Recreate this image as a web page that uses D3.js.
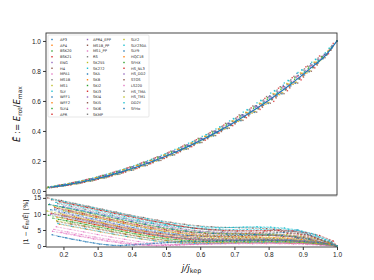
<!DOCTYPE html>
<html>
<head>
<meta charset="utf-8">
<script src="https://cdn.jsdelivr.net/npm/d3@7"></script>
<style>
  body { margin: 0; background: #fff; }
  svg { display: block; font-family: "DejaVu Sans", sans-serif; }
</style>
</head>
<body>
<svg id="chart" width="374" height="280"></svg>
<script>
// shared j/j_kep grid of the sampled models
var jValues = [0.17, 0.21, 0.25, 0.29, 0.33, 0.37, 0.41, 0.45, 0.49, 0.53, 0.57,
  0.61, 0.65, 0.69, 0.73, 0.77, 0.81, 0.85, 0.89, 0.93, 0.97, 1.0];

// fitted E_bar at the same j values
var fitE = [0.027, 0.041, 0.058, 0.078, 0.101, 0.127, 0.156, 0.188, 0.223, 0.261, 0.302,
  0.346, 0.394, 0.445, 0.500, 0.558, 0.620, 0.686, 0.757, 0.832, 0.912, 1.0];

var eosNames = ["AP3", "AP4", "BSK20", "BSK21", "ENG", "H4", "MPA1", "MS1B", "MS1", "SLY",
  "WFF1", "WFF2", "SLY4", "APR", "APR4_EPP", "MS1B_PP", "MS1_PP", "RS", "SK255", "SK272",
  "SKA", "SKB", "SKI2", "SKI3", "SKI4", "SKI5", "SKI6", "SKMP", "SLY2", "SLY230A", "SLY9",
  "HQC18", "SFHX", "HS_NL3", "HS_DD2", "STOS", "LS220", "HS_TMA", "HS_TM1", "DD2Y", "SFHo"];

// offset of each EOS's sampled j values from the shared grid
var jShift = [0.004, -0.012, 0.016, -0.006, 0.010, -0.016, 0.002, 0.013, -0.009, 0.007,
  -0.003, 0.018, -0.014, 0.005, -0.010, 0.012, -0.002, 0.015, -0.018, 0.008,
  -0.007, 0.011, -0.013, 0.001, 0.017, -0.005, 0.009, -0.015, 0.003, 0.014,
  -0.011, 0.006, -0.001, 0.019, -0.008, 0.012, -0.017, 0.0, 0.010, -0.004, 0.015];

// side of the fit the E_bar points lie on (+1 above, -1 below)
var sides = [1, -1, 1, 1, -1, 1, -1, 1, -1, 1, 1, -1, 1, -1, 1, -1, 1, 1, -1, 1,
  1, -1, 1, -1, 1, -1, 1, -1, 1, 1, -1, 1, -1, 1, 1, -1, 1, -1, 1, 1, -1];

// |1 - E_fit/E| in percent, one row per EOS
var deviations = [
  [11.5, 10.6, 9.7, 8.7, 7.8, 6.9, 6.0, 5.2, 4.4, 3.8, 3.3, 3.0, 2.8, 2.7, 2.6, 2.5, 2.3, 2.1, 1.8, 1.3, 0.6, 0.0],
  [null, 9.8, 8.9, 8.0, 7.1, 6.2, 5.3, 4.5, 3.8, 3.2, 2.8, 2.5, 2.4, 2.4, 2.3, 2.2, 2.1, 1.9, 1.6, 1.2, 0.5, 0.0],
  [8.3, 7.5, 6.7, 5.9, 5.1, 4.3, 3.5, 2.8, 2.2, 1.8, 1.5, 1.4, 1.4, 1.5, 1.5, 1.5, 1.4, 1.3, 1.1, 0.8, 0.4, 0.0],
  [10.2, 9.4, 8.6, 7.7, 6.8, 6.0, 5.2, 4.5, 3.9, 3.5, 3.2, 3.1, 3.0, 3.0, 3.0, 3.1, 3.4, 2.9, 2.6, 2.0, 1.0, 0.0],
  [null, 7.2, 6.3, 5.5, 4.6, 3.8, 3.0, 2.3, 1.8, 1.4, 1.2, 1.1, 1.1, 1.2, 1.2, 1.2, 1.2, 1.1, 0.9, 0.7, 0.3, 0.0],
  [15.0, 14.2, 13.3, 12.4, 11.5, 10.6, 9.7, 8.9, 8.1, 7.4, 6.8, 6.3, 6.0, 5.8, 5.7, 5.6, 5.4, 5.1, 4.6, 3.6, 1.8, 0.0],
  [5.2, 4.4, 3.6, 2.8, 2.1, 1.4, 0.8, 0.4, 0.2, 0.3, 0.5, 0.7, 0.8, 0.9, 1.0, 1.0, 1.0, 0.9, 0.8, 0.6, 0.3, 0.0],
  [13.2, 12.3, 11.4, 10.5, 9.6, 8.7, 7.8, 7.0, 6.2, 5.5, 4.9, 4.5, 4.2, 4.0, 3.9, 3.8, 3.6, 3.4, 3.0, 2.3, 1.1, 0.0],
  [null, 11.0, 10.1, 9.2, 8.3, 7.4, 6.5, 5.7, 4.9, 4.3, 3.8, 3.4, 3.2, 3.1, 3.0, 2.9, 2.8, 2.6, 2.2, 1.7, 0.8, 0.0],
  [12.6, 11.8, 11.0, 10.2, 9.4, 8.6, 7.8, 7.1, 6.5, 6.0, 5.7, 5.6, 5.6, 5.8, 5.9, 5.8, 5.6, 5.2, 4.6, 3.6, 1.9, 0.0],
  [3.5, 2.6, 1.8, 1.0, 0.4, 0.1, 0.3, 0.6, 0.9, 1.1, 1.3, 1.4, 1.5, 1.6, 1.6, 1.6, 1.7, 1.8, 2.4, 1.6, 0.8, 0.0],
  [6.8, 6.0, 5.2, 4.4, 3.6, 2.9, 2.2, 1.6, 1.2, 0.9, 0.8, 0.8, 0.9, 1.0, 1.0, 1.0, 1.0, 0.9, 0.8, 0.6, 0.3, 0.0],
  [9.6, 8.8, 8.0, 7.1, 6.3, 5.5, 4.7, 4.0, 3.3, 2.8, 2.4, 2.2, 2.1, 2.1, 2.1, 2.1, 2.0, 1.9, 1.6, 1.2, 0.6, 0.0],
  [12.0, 11.1, 10.2, 9.3, 8.4, 7.5, 6.7, 5.9, 5.2, 4.6, 4.2, 3.9, 3.8, 3.8, 3.9, 4.1, 5.2, 4.0, 3.5, 2.6, 1.3, 0.0],
  [null, 12.4, 11.5, 10.6, 9.7, 8.8, 7.9, 7.1, 6.3, 5.6, 5.0, 4.6, 4.3, 4.1, 4.0, 3.9, 3.7, 3.5, 3.1, 2.4, 1.2, 0.0],
  [7.6, 6.8, 6.0, 5.2, 4.4, 3.6, 2.9, 2.2, 1.7, 1.3, 1.1, 1.0, 1.0, 1.0, 1.0, 1.0, 1.0, 0.9, 0.8, 0.6, 0.3, 0.0],
  [4.6, 3.8, 3.0, 2.2, 1.5, 0.9, 0.4, 0.2, 0.3, 0.5, 0.7, 0.8, 0.9, 1.0, 1.1, 1.1, 1.1, 1.0, 0.9, 0.7, 0.3, 0.0],
  [14.1, 13.2, 12.3, 11.4, 10.5, 9.6, 8.7, 7.8, 7.0, 6.2, 5.5, 5.0, 4.6, 4.4, 4.3, 4.3, 4.2, 4.0, 3.6, 2.8, 1.4, 0.0],
  [10.9, 10.1, 9.2, 8.3, 7.4, 6.5, 5.7, 4.9, 4.2, 3.6, 3.1, 2.8, 2.6, 2.5, 2.5, 2.5, 2.4, 2.3, 2.0, 1.5, 0.7, 0.0],
  [13.6, 12.8, 11.9, 11.0, 10.1, 9.2, 8.3, 7.5, 6.7, 6.0, 5.5, 5.2, 5.1, 5.1, 5.2, 5.2, 5.0, 4.7, 4.2, 3.2, 1.6, 0.0],
  [11.3, 10.4, 9.5, 8.5, 7.6, 6.7, 5.8, 5.0, 4.3, 3.7, 3.3, 3.1, 3.1, 3.2, 3.3, 3.5, 3.8, 4.2, 5.0, 3.4, 1.5, 0.0],
  [9.0, 8.2, 7.3, 6.5, 5.6, 4.8, 4.0, 3.3, 2.7, 2.2, 1.9, 1.7, 1.7, 1.7, 1.8, 1.8, 1.8, 1.7, 1.5, 1.1, 0.5, 0.0],
  [12.9, 12.1, 11.2, 10.3, 9.4, 8.5, 7.6, 6.8, 6.0, 5.3, 4.7, 4.3, 4.0, 3.8, 3.7, 3.6, 3.5, 3.3, 2.9, 2.2, 1.1, 0.0],
  [null, 8.4, 7.6, 6.7, 5.9, 5.1, 4.3, 3.6, 3.0, 2.5, 2.1, 1.9, 1.8, 1.8, 1.8, 1.8, 1.7, 1.6, 1.4, 1.0, 0.5, 0.0],
  [10.5, 9.6, 8.7, 7.8, 6.9, 6.0, 5.1, 4.3, 3.6, 3.0, 2.6, 2.3, 2.2, 2.2, 2.2, 2.2, 2.1, 2.0, 1.7, 1.3, 0.6, 0.0],
  [14.4, 13.5, 12.6, 11.7, 10.8, 9.9, 9.0, 8.1, 7.3, 6.5, 5.9, 5.4, 5.1, 4.9, 4.8, 4.8, 4.7, 4.5, 4.0, 3.1, 1.5, 0.0],
  [6.0, 5.2, 4.4, 3.6, 2.8, 2.1, 1.4, 0.9, 0.5, 0.4, 0.5, 0.6, 0.7, 0.8, 0.9, 0.9, 0.9, 0.9, 0.8, 0.6, 0.3, 0.0],
  [null, 9.4, 8.5, 7.6, 6.7, 5.8, 5.0, 4.2, 3.5, 2.9, 2.5, 2.2, 2.0, 1.9, 1.9, 1.9, 1.8, 1.7, 1.5, 1.1, 0.5, 0.0],
  [12.3, 11.5, 10.6, 9.7, 8.8, 7.9, 7.1, 6.3, 5.5, 4.9, 4.4, 4.1, 3.9, 3.8, 3.8, 3.8, 3.7, 3.5, 3.1, 2.4, 1.2, 0.0],
  [7.0, 6.2, 5.4, 4.6, 3.8, 3.0, 2.3, 1.7, 1.2, 0.9, 0.8, 0.8, 0.9, 1.0, 1.1, 1.2, 1.2, 1.2, 1.1, 0.8, 0.4, 0.0],
  [13.0, 12.1, 11.2, 10.3, 9.4, 8.5, 7.6, 6.7, 5.9, 5.2, 4.6, 4.2, 3.9, 3.7, 3.6, 3.5, 3.4, 3.2, 2.8, 2.1, 1.0, 0.0],
  [null, 10.7, 9.8, 8.9, 8.0, 7.1, 6.2, 5.4, 4.6, 4.0, 3.5, 3.1, 2.9, 2.8, 2.7, 2.7, 2.6, 2.4, 2.1, 1.6, 0.8, 0.0],
  [8.7, 7.9, 7.1, 6.2, 5.4, 4.6, 3.8, 3.1, 2.5, 2.0, 1.7, 1.5, 1.5, 1.5, 1.5, 1.5, 1.5, 1.4, 1.2, 0.9, 0.4, 0.0],
  [13.8, 12.9, 12.0, 11.1, 10.2, 9.3, 8.4, 7.6, 6.8, 6.1, 5.5, 5.1, 4.8, 4.7, 4.7, 4.8, 4.9, 4.7, 4.2, 3.3, 1.6, 0.0],
  [9.9, 9.1, 8.2, 7.3, 6.4, 5.5, 4.7, 3.9, 3.2, 2.6, 2.2, 1.9, 1.8, 1.8, 1.8, 1.8, 1.8, 1.7, 1.5, 1.1, 0.5, 0.0],
  [11.7, 10.9, 10.0, 9.1, 8.2, 7.3, 6.4, 5.6, 4.9, 4.3, 3.8, 3.5, 3.4, 3.3, 3.3, 3.3, 3.2, 3.0, 2.7, 2.0, 1.0, 0.0],
  [null, 4.3, 3.5, 2.7, 2.0, 1.3, 0.7, 0.3, 0.1, 0.2, 0.4, 0.5, 0.6, 0.7, 0.7, 0.7, 0.7, 0.7, 0.6, 0.5, 0.2, 0.0],
  [10.1, 9.3, 8.4, 7.5, 6.6, 5.7, 4.8, 4.0, 3.3, 2.7, 2.3, 2.0, 1.9, 1.9, 1.9, 1.9, 1.9, 1.8, 1.6, 1.2, 0.6, 0.0],
  [7.9, 7.1, 6.3, 5.5, 4.7, 3.9, 3.1, 2.4, 1.8, 1.4, 1.2, 1.1, 1.1, 1.2, 1.2, 1.3, 1.3, 1.2, 1.1, 0.8, 0.4, 0.0],
  [14.6, 13.8, 12.9, 12.0, 11.1, 10.2, 9.3, 8.5, 7.7, 7.0, 6.4, 6.0, 5.8, 5.8, 5.9, 6.0, 5.9, 5.6, 5.0, 3.9, 1.9, 0.0],
  [3.0, 2.1, 1.3, 0.6, 0.2, 0.3, 0.6, 0.9, 1.2, 1.4, 1.5, 1.6, 1.7, 1.7, 1.8, 1.8, 1.8, 1.7, 1.5, 1.1, 0.5, 0.0]
];

var topTicks = [0.0, 0.2, 0.4, 0.6, 0.8, 1.0];
var bottomTicks = [0, 5, 10, 15];
var xTicks = [0.2, 0.3, 0.4, 0.5, 0.6, 0.7, 0.8, 0.9, 1.0];

// matplotlib tab10 cycle
var colors = ["#1f77b4", "#ff7f0e", "#2ca02c", "#d62728", "#9467bd",
  "#8c564b", "#e377c2", "#7f7f7f", "#bcbd22", "#17becf"];

var svg = d3.select("#chart");
var left = 46, right = 337, topY = 33, midY = 195, bottomY = 247;
var axisColor = "#333";

var x = d3.scaleLinear().domain([0.149, 1.0]).range([left, right]);
var yTop = d3.scaleLinear().domain([-0.027, 1.053]).range([midY, topY]);
var yBot = d3.scaleLinear().domain([-0.3, 15.9]).range([bottomY, midY]);

var last = jValues.length - 1;
var series = eosNames.map(function (name, i) {
  var pts = [];
  jValues.forEach(function (j, k) {
    var dev = deviations[i][k];
    if (dev === null) return;
    var jj = k === last ? j : Math.min(j + jShift[i], 0.995);
    // E_bar sits on one side of the fit at the measured deviation
    var e = d3.scaleLinear().domain(jValues).range(fitE)(jj);
    pts.push({ j: jj, dev: dev, e: e / (1 - sides[i] * dev / 100) });
  });
  return { name: name, color: colors[i % colors.length], points: pts };
});

// ---- top panel: scatter + fit ----
var topG = svg.append("g");
series.forEach(function (s) {
  topG.selectAll(null)
    .data(s.points)
    .enter()
    .append("rect")
    .attr("x", function (d) { return x(d.j) - 0.7; })
    .attr("y", function (d) { return yTop(d.e) - 0.7; })
    .attr("width", 1.4)
    .attr("height", 1.4)
    .style("fill", s.color)
    .style("opacity", 0.8);
});

var fitLine = d3.line()
  .x(function (d, k) { return x(jValues[k]); })
  .y(function (d) { return yTop(d); })
  .curve(d3.curveMonotoneX);

topG.append("path")
  .attr("d", fitLine(fitE))
  .style("fill", "none")
  .style("stroke", "#1f77b4")
  .style("stroke-width", 1.2);

// ---- bottom panel: deviations ----
var botG = svg.append("g");
var devLine = d3.line()
  .x(function (d) { return x(d.j); })
  .y(function (d) { return yBot(d.dev); });

series.forEach(function (s) {
  botG.append("path")
    .attr("d", devLine(s.points))
    .style("fill", "none")
    .style("stroke", s.color)
    .style("stroke-width", 0.6)
    .style("stroke-dasharray", "2.5,1")
    .style("opacity", 0.85);
  botG.selectAll(null)
    .data(s.points)
    .enter()
    .append("circle")
    .attr("cx", function (d) { return x(d.j); })
    .attr("cy", function (d) { return yBot(d.dev); })
    .attr("r", 0.7)
    .style("fill", s.color);
});

// ---- axes ----
function styleAxis(g) {
  g.selectAll("path").remove();
  g.selectAll("line").style("stroke", axisColor);
  g.selectAll("text").style("font-size", "6.5px").style("fill", "#222");
}

svg.append("g")
  .attr("transform", "translate(" + left + ",0)")
  .call(d3.axisLeft(yTop).tickValues(topTicks).tickFormat(d3.format(".1f")).tickSize(3).tickPadding(2))
  .call(styleAxis);

svg.append("g")
  .attr("transform", "translate(" + left + ",0)")
  .call(d3.axisLeft(yBot).tickValues(bottomTicks).tickFormat(d3.format("d")).tickSize(3).tickPadding(2))
  .call(styleAxis);

svg.append("g")
  .attr("transform", "translate(0," + bottomY + ")")
  .call(d3.axisBottom(x).tickValues(xTicks).tickFormat(d3.format(".1f")).tickSize(3).tickPadding(2))
  .call(styleAxis);

// frames
svg.append("rect")
  .attr("x", left).attr("y", topY)
  .attr("width", right - left).attr("height", midY - topY)
  .style("fill", "none").style("stroke", axisColor).style("stroke-width", 0.9);
svg.append("line")
  .attr("x1", left).attr("x2", right).attr("y1", midY + 0.8).attr("y2", midY + 0.8)
  .style("stroke", "#888").style("stroke-width", 1);
svg.append("line")
  .attr("x1", left).attr("x2", left).attr("y1", midY).attr("y2", bottomY)
  .style("stroke", axisColor).style("stroke-width", 0.9);
svg.append("line")
  .attr("x1", left).attr("x2", right).attr("y1", bottomY).attr("y2", bottomY)
  .style("stroke", axisColor).style("stroke-width", 0.9);

// ---- legend ----
var legend = svg.append("g");
legend.append("rect")
  .attr("x", 48).attr("y", 35).attr("width", 101).attr("height", 82).attr("rx", 1)
  .style("fill", "#fff").style("fill-opacity", 0.85)
  .style("stroke", "#ddd").style("stroke-width", 0.7);

var markerX = [52, 87.5, 124], textX = [60, 93, 131];
series.forEach(function (s, i) {
  var col = Math.floor(i / 14), row = i % 14;
  var yy = 39.5 + row * 5.75;
  legend.append("rect")
    .attr("x", markerX[col] - 0.7).attr("y", yy - 0.7)
    .attr("width", 1.4).attr("height", 1.4)
    .style("fill", s.color);
  legend.append("text")
    .attr("x", textX[col]).attr("y", yy)
    .attr("dy", "0.35em")
    .style("font-size", "3.6px")
    .style("fill", "#222")
    .text(s.name);
});

// ---- labels ----
var yl1 = svg.append("text")
  .attr("transform", "translate(20,114) rotate(-90)")
  .attr("text-anchor", "middle")
  .style("font-size", "8.5px").style("fill", "#111");
yl1.append("tspan").style("font-style", "italic").text("Ē");
yl1.append("tspan").text(" := ");
yl1.append("tspan").style("font-style", "italic").text("E");
yl1.append("tspan").attr("baseline-shift", "-25%").style("font-size", "6px").text("rot");
yl1.append("tspan").attr("baseline-shift", "0").text("/");
yl1.append("tspan").style("font-style", "italic").text("E");
yl1.append("tspan").attr("baseline-shift", "-25%").style("font-size", "6px").text("max");

var yl2 = svg.append("text")
  .attr("transform", "translate(28,222) rotate(-90)")
  .attr("text-anchor", "middle")
  .style("font-size", "6.3px").style("fill", "#111");
yl2.append("tspan").text("|1 − ");
yl2.append("tspan").style("font-style", "italic").text("Ē");
yl2.append("tspan").attr("baseline-shift", "-25%").style("font-size", "4.5px").text("fit");
yl2.append("tspan").text("/");
yl2.append("tspan").style("font-style", "italic").text("Ē");
yl2.append("tspan").text("| [%]");

var xl = svg.append("text")
  .attr("x", (left + right) / 2).attr("y", 271)
  .attr("text-anchor", "middle")
  .style("font-size", "9px").style("fill", "#111");
xl.append("tspan").style("font-style", "italic").text("j/j");
xl.append("tspan").attr("baseline-shift", "-25%").style("font-size", "6.5px").text("kep");
</script>
</body>
</html>
